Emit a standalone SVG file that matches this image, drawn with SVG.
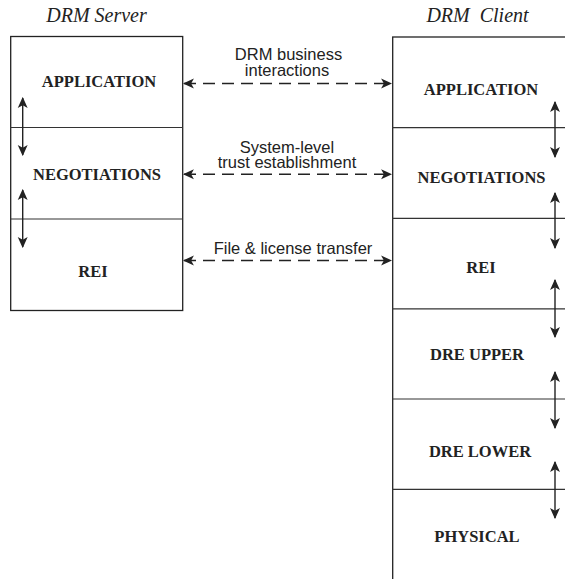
<svg xmlns="http://www.w3.org/2000/svg" width="565" height="579" viewBox="0 0 565 579">
<style>
.box{fill:#fff;stroke:#222;stroke-width:1.3}
.div{stroke:#333;stroke-width:1.2}
.lbl{font-family:"Liberation Serif",serif;font-weight:bold;font-size:16.5px;fill:#222;text-anchor:middle}
.ttl{font-family:"Liberation Serif",serif;font-style:italic;font-size:20px;fill:#222;text-anchor:middle}
.cap{font-family:"Liberation Sans",Arial,sans-serif;font-size:16.5px;fill:#222;text-anchor:middle}
.v{stroke:#222;stroke-width:1.4;fill:none;marker-start:url(#ah);marker-end:url(#ah)}
.h{stroke:#222;stroke-width:1.4;fill:none;stroke-dasharray:12,7;marker-start:url(#ah);marker-end:url(#ah)}
</style>
<defs>
<marker id="ah" viewBox="0 0 10 10" refX="9" refY="5" markerWidth="11" markerHeight="11" markerUnits="userSpaceOnUse" orient="auto-start-reverse">
<path d="M0,0.5 L10,5 L0,9.5 L2.5,5 Z" fill="#222"/>
</marker>
</defs>
<rect width="565" height="579" fill="#fff"/>
<text class="ttl" x="96.5" y="21.5">DRM Server</text>
<text class="ttl" x="477.5" y="21.5" xml:space="preserve">DRM  Client</text>
<g id="server">
<rect class="box" x="10.7" y="36.5" width="172" height="274"/>
<line class="div" x1="10" y1="127.5" x2="183" y2="127.5"/>
<line class="div" x1="10" y1="219" x2="183" y2="219"/>
</g>
<g id="server-app"><text class="lbl" x="99" y="87">APPLICATION</text></g>
<g id="server-neg"><text class="lbl" x="97" y="180">NEGOTIATIONS</text></g>
<g id="server-rei"><text class="lbl" x="93" y="277">REI</text></g>
<g id="client">
<rect class="box" x="392.7" y="37" width="190" height="560"/>
<line class="div" x1="392" y1="127.7" x2="565" y2="127.7"/>
<line class="div" x1="392" y1="218.3" x2="565" y2="218.3"/>
<line class="div" x1="392" y1="308.8" x2="565" y2="308.8"/>
<line class="div" x1="392" y1="399" x2="565" y2="399"/>
<line class="div" x1="392" y1="489.3" x2="565" y2="489.3"/>
</g>
<g id="client-app"><text class="lbl" x="481" y="95">APPLICATION</text></g>
<g id="client-neg"><text class="lbl" x="481.5" y="183">NEGOTIATIONS</text></g>
<g id="client-rei"><text class="lbl" x="481" y="273">REI</text></g>
<g id="client-dreu"><text class="lbl" x="477" y="360">DRE UPPER</text></g>
<g id="client-drel"><text class="lbl" x="480" y="456.5">DRE LOWER</text></g>
<g id="client-phys"><text class="lbl" x="477" y="541.5">PHYSICAL</text></g>
<g id="connectors">
<line class="v" x1="22.7" y1="98" x2="22.7" y2="155"/>
<line class="v" x1="22.7" y1="190" x2="22.7" y2="247"/>
<line class="v" x1="555" y1="102" x2="555" y2="157"/>
<line class="v" x1="555" y1="193" x2="555" y2="248"/>
<line class="v" x1="555" y1="280" x2="555" y2="337"/>
<line class="v" x1="555" y1="372" x2="555" y2="428"/>
<line class="v" x1="555" y1="462" x2="555" y2="518"/>
<line class="h" x1="184" y1="83.5" x2="391" y2="83.5"/>
<line class="h" x1="184" y1="174.3" x2="391" y2="174.3"/>
<line class="h" x1="184" y1="260.5" x2="391" y2="260.5"/>
<text class="cap" x="288.5" y="60">DRM business</text>
<text class="cap" x="287" y="75.5">interactions</text>
<text class="cap" x="287" y="153">System-level</text>
<text class="cap" x="287" y="167.5">trust establishment</text>
<text class="cap" x="293" y="254">File &amp; license transfer</text>
</g>
</svg>
